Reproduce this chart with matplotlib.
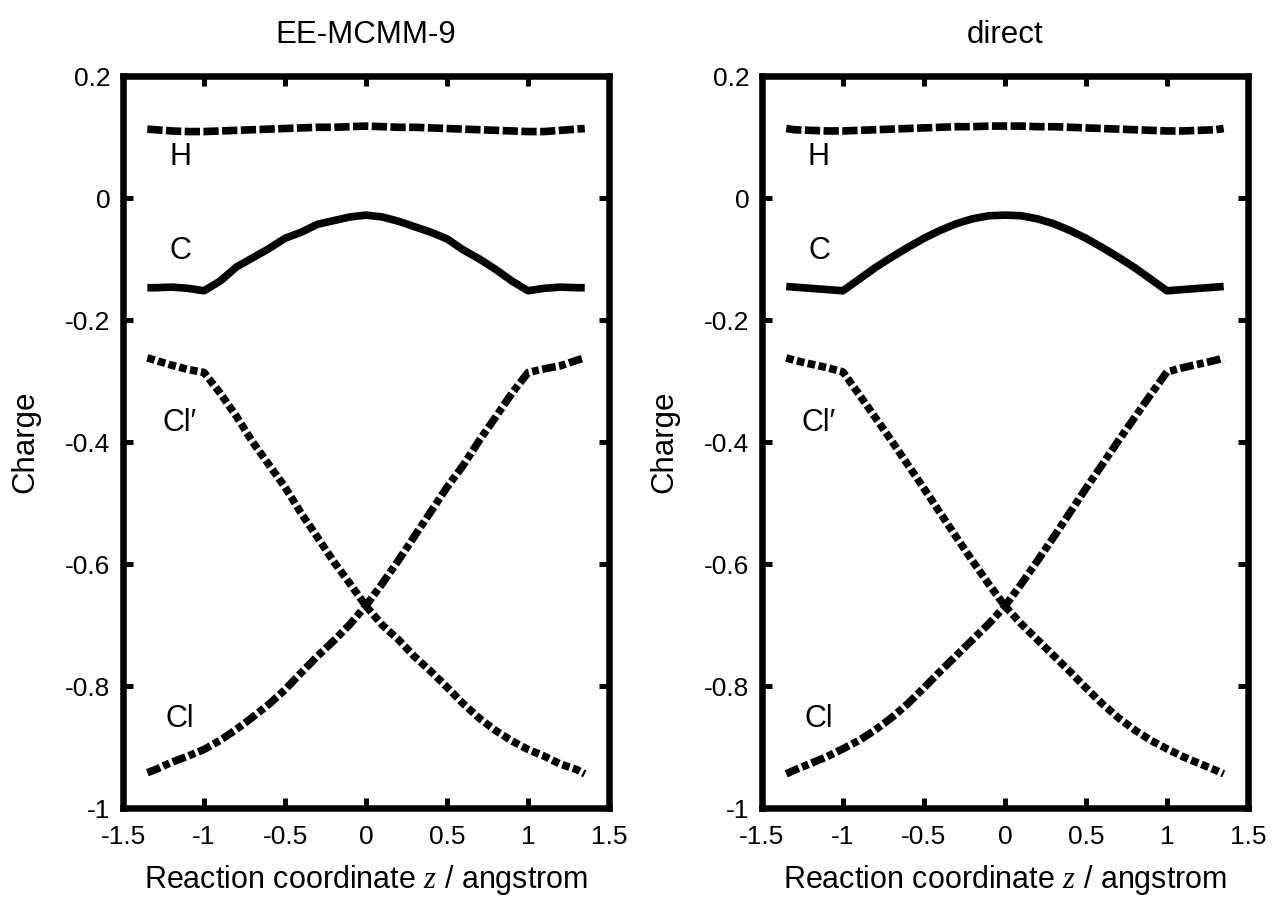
import numpy as np
import matplotlib
matplotlib.use('Agg')
import matplotlib.pyplot as plt

plt.rcParams['font.family'] = ['Liberation Sans', 'DejaVu Sans']
plt.rcParams['axes.unicode_minus'] = False
plt.rcParams['mathtext.fontset'] = 'custom'
plt.rcParams['mathtext.it'] = 'Liberation Serif:italic'

# reaction coordinate z (angstrom)
z = [-1.35, -1.3, -1.2, -1.1, -1.0, -0.9, -0.8, -0.7, -0.6, -0.5, -0.4, -0.3,
     -0.2, -0.1, 0.0, 0.1, 0.2, 0.3, 0.4, 0.5, 0.6, 0.7, 0.8, 0.9, 1.0, 1.1,
     1.2, 1.3, 1.35]

# EE-MCMM-9 charges
ee_H = [0.113, 0.112, 0.110, 0.109, 0.109, 0.110, 0.111, 0.112, 0.113, 0.114,
        0.115, 0.116, 0.116, 0.117, 0.118, 0.117, 0.116, 0.116, 0.115, 0.114,
        0.113, 0.112, 0.111, 0.110, 0.109, 0.109, 0.111, 0.113, 0.114]
ee_C = [-0.147, -0.147, -0.146, -0.148, -0.152, -0.136, -0.113, -0.098, -0.083,
        -0.066, -0.056, -0.043, -0.037, -0.031, -0.028, -0.031, -0.038, -0.047,
        -0.056, -0.067, -0.085, -0.100, -0.117, -0.136, -0.152, -0.148, -0.146,
        -0.147, -0.147]
ee_Clp = [-0.262, -0.266, -0.274, -0.281, -0.286, -0.320, -0.358, -0.400,
          -0.437, -0.474, -0.517, -0.556, -0.596, -0.632, -0.669, -0.700,
          -0.724, -0.752, -0.776, -0.802, -0.829, -0.853, -0.873, -0.890,
          -0.904, -0.915, -0.928, -0.937, -0.944]
ee_Cl = [-0.942, -0.937, -0.925, -0.915, -0.904, -0.889, -0.871, -0.851,
         -0.830, -0.806, -0.778, -0.751, -0.726, -0.699, -0.668, -0.632,
         -0.594, -0.554, -0.514, -0.474, -0.438, -0.397, -0.359, -0.320,
         -0.286, -0.280, -0.275, -0.266, -0.262]

# direct charges
di_H = [0.114, 0.112, 0.111, 0.110, 0.110, 0.111, 0.112, 0.113, 0.114, 0.115,
        0.116, 0.117, 0.117, 0.118, 0.118, 0.118, 0.117, 0.117, 0.116, 0.115,
        0.114, 0.113, 0.112, 0.111, 0.110, 0.110, 0.111, 0.112, 0.114]
di_C = [-0.145, -0.146, -0.148, -0.150, -0.152, -0.133, -0.114, -0.097, -0.081,
        -0.066, -0.053, -0.042, -0.034, -0.029, -0.028, -0.029, -0.034, -0.042,
        -0.053, -0.066, -0.081, -0.097, -0.114, -0.133, -0.152, -0.150, -0.148,
        -0.146, -0.145]
di_Clp = [-0.262, -0.266, -0.272, -0.278, -0.285, -0.322, -0.360, -0.398,
          -0.437, -0.476, -0.516, -0.556, -0.595, -0.633, -0.669, -0.698,
          -0.724, -0.750, -0.776, -0.803, -0.829, -0.852, -0.872, -0.889,
          -0.903, -0.916, -0.927, -0.938, -0.944]
di_Cl = di_Clp[::-1]

titles = ['EE-MCMM-9', 'direct']
xticks = [-1.5, -1.0, -0.5, 0.0, 0.5, 1.0, 1.5]
xticklabels = ['-1.5', '-1', '-0.5', '0', '0.5', '1', '1.5']
yticks = [-1.0, -0.8, -0.6, -0.4, -0.2, 0.0, 0.2]
yticklabels = ['-1', '-0.8', '-0.6', '-0.4', '-0.2', '0', '0.2']

labels = ['H', 'C', 'Cl\u2032', 'Cl']
label_y = [0.067, -0.087, -0.369, -0.854]
label_x = -1.148

lw = 5.5
styles = [(0, (2.0, 0.45)), '-', (0, (1.0, 0.45)), (0, (1.8, 0.45, 0.9, 0.45))]

fig = plt.figure(figsize=(12.75, 8.99), dpi=100)
ax1 = fig.add_axes([0.0965, 0.1012, 0.3812, 0.8142])
ax2 = fig.add_axes([0.5976, 0.1012, 0.3812, 0.8142])

for ax, title, series in [(ax1, titles[0], [ee_H, ee_C, ee_Clp, ee_Cl]),
                          (ax2, titles[1], [di_H, di_C, di_Clp, di_Cl])]:
    for s, ls in zip(series, styles):
        ax.plot(z, s, color='black', lw=lw, linestyle=ls,
                dash_capstyle='butt', solid_capstyle='butt')
    for lab, ly in zip(labels, label_y):
        ax.text(label_x, ly, lab, fontsize=22, ha='center', va='center')

    ax.set_xlim(-1.5, 1.5)
    ax.set_ylim(-1.0, 0.2)
    ax.set_xticks(xticks)
    ax.set_xticklabels(xticklabels)
    ax.set_yticks(yticks)
    ax.set_yticklabels(yticklabels)
    ax.tick_params(direction='in', length=7, width=3.6, top=True, right=True,
                   labelsize=19)
    ax.tick_params(axis='x', pad=12)
    ax.tick_params(axis='y', pad=9)
    for sp in ax.spines.values():
        sp.set_linewidth(4.7)
    ax.set_title(title, fontsize=22.5, pad=24)
    ax.set_xlabel('Reaction coordinate $\\it{z}$ / angstrom', fontsize=22, labelpad=10)
    ax.set_ylabel('Charge', fontsize=22.5, labelpad=18)

fig.savefig('out.png', dpi=100)
